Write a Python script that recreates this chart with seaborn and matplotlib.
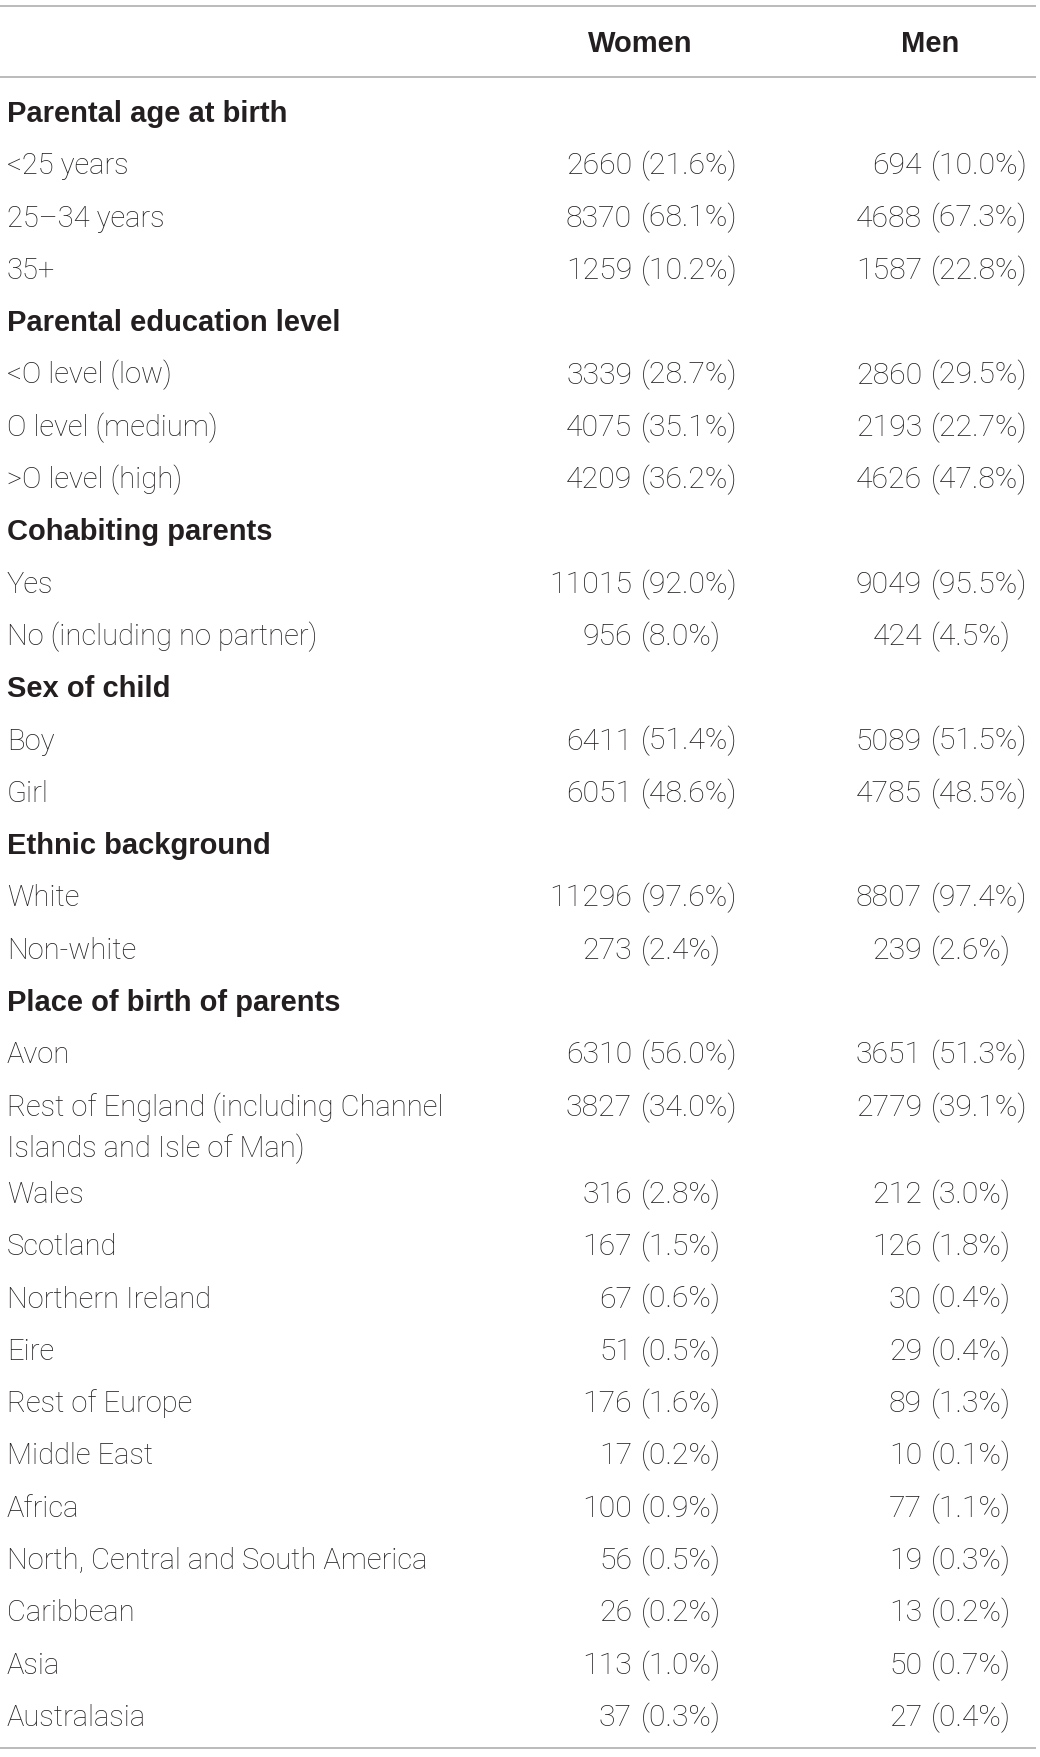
import matplotlib
matplotlib.use("Agg")
import matplotlib.pyplot as plt
import seaborn as sns

# table content
sections = [
    "Parental age at birth",
    "Parental education level",
    "Cohabiting parents",
    "Sex of child",
    "Ethnic background",
    "Place of birth of parents",
]
labels = [
    ["<25 years", "25\u201334 years", "35+"],
    ["<O level (low)", "O level (medium)", ">O level (high)"],
    ["Yes", "No (including no partner)"],
    ["Boy", "Girl"],
    ["White", "Non-white"],
    ["Avon", "Rest of England (including Channel\nIslands and Isle of Man)", "Wales",
     "Scotland", "Northern Ireland", "Eire", "Rest of Europe", "Middle East", "Africa",
     "North, Central and South America", "Caribbean", "Asia", "Australasia"],
]
women_n = [
    [2660, 8370, 1259],
    [3339, 4075, 4209],
    [11015, 956],
    [6411, 6051],
    [11296, 273],
    [6310, 3827, 316, 167, 67, 51, 176, 17, 100, 56, 26, 113, 37],
]
women_pct = [
    [21.6, 68.1, 10.2],
    [28.7, 35.1, 36.2],
    [92.0, 8.0],
    [51.4, 48.6],
    [97.6, 2.4],
    [56.0, 34.0, 2.8, 1.5, 0.6, 0.5, 1.6, 0.2, 0.9, 0.5, 0.2, 1.0, 0.3],
]
men_n = [
    [694, 4688, 1587],
    [2860, 2193, 4626],
    [9049, 424],
    [5089, 4785],
    [8807, 239],
    [3651, 2779, 212, 126, 30, 29, 89, 10, 77, 19, 13, 50, 27],
]
men_pct = [
    [10.0, 67.3, 22.8],
    [29.5, 22.7, 47.8],
    [95.5, 4.5],
    [51.5, 48.5],
    [97.4, 2.6],
    [51.3, 39.1, 3.0, 1.8, 0.4, 0.4, 1.3, 0.1, 1.1, 0.3, 0.2, 0.7, 0.4],
]
columns = ["Women", "Men"]

sns.set_theme(style="white")
plt.rcParams["font.family"] = ["Roboto", "DejaVu Sans"]

W, H = 1040, 1757
fig = plt.figure(figsize=(W / 100, H / 100), dpi=100)
ax = fig.add_axes([0, 0, 1, 1])
ax.set_xlim(0, W)
ax.set_ylim(H, 0)
ax.axis("off")

ink = "#231f20"
rule = "#a8a8a8"
fs_lab = 21.0
fs_val = 21.8
fs_bold = 21
cap = 10  # half cap height in px, centre -> baseline

# column anchors: number ends left of the paren, paren starts at anchor
paren_x = [641, 931]
num_x = [632, 922]

# header
for name, cx in zip(columns, paren_x):
    ax.text(cx - 1, 42 + cap, name, ha="center", va="baseline", fontsize=fs_bold,
            fontweight="bold", color=ink, family="Liberation Sans")

for yy in (6, 77, 1748):
    ax.plot([0, 1036], [yy, yy], color=rule, lw=1.1, solid_capstyle="butt")

step = 52.3
wrap_gap = 41
y = 112
for sec, labs, wn, wp, mn, mp in zip(sections, labels, women_n, women_pct, men_n, men_pct):
    ax.text(7, y + cap, sec, ha="left", va="baseline", fontsize=fs_bold,
            fontweight="bold", color=ink, family="Liberation Sans")
    y += step
    for lab, a, b, c, d in zip(labs, wn, wp, mn, mp):
        parts = lab.split("\n")
        for i, p in enumerate(parts):
            ax.text(7, y + cap + i * wrap_gap, p, ha="left", va="baseline",
                    fontsize=fs_lab, fontweight="light", color=ink)
        for k, (n, pc) in enumerate(((a, b), (c, d))):
            ax.text(num_x[k], y + cap, str(n), ha="right", va="baseline",
                    fontsize=fs_val, fontweight="light", color=ink)
            ax.text(paren_x[k], y + cap, f"({pc:.1f}%)", ha="left", va="baseline",
                    fontsize=fs_val, fontweight="light", color=ink)
        y += step + (len(parts) - 1) * 35

fig.savefig("out.png", dpi=100)
